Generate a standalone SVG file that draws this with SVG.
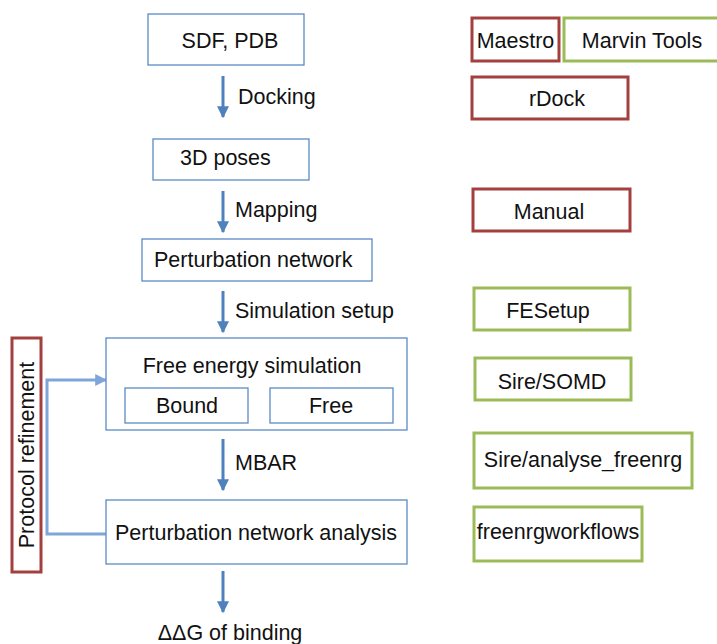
<svg xmlns="http://www.w3.org/2000/svg" width="717" height="644" viewBox="0 0 717 644">
<defs>
<style>
text{font-family:"Liberation Sans",Arial,sans-serif;font-size:21.5px;fill:#111}
.b{fill:#fff;stroke:#5b8ac6;stroke-width:1.3}
.r{fill:#fff;stroke:#a3403d;stroke-width:3}
.g{fill:#fff;stroke:#9bbb59;stroke-width:3}
.a{stroke:#4f81bd;stroke-width:3;fill:none}
.m{text-anchor:middle}
</style>
<marker id="ah" viewBox="0 0 10 10" refX="9" refY="5" markerWidth="4" markerHeight="4" orient="auto" markerUnits="strokeWidth">
<path d="M0,0 L10,5 L0,10 Z" fill="#4f81bd"/>
</marker>
<marker id="ah2" viewBox="0 0 10 10" refX="9" refY="5" markerWidth="4" markerHeight="4" orient="auto" markerUnits="strokeWidth">
<path d="M0,0 L10,5 L0,10 Z" fill="#7ea6d8"/>
</marker>
</defs>
<g id="connectors">
<line class="a" x1="223" y1="76" x2="223" y2="117" marker-end="url(#ah)"/>
<line class="a" x1="223" y1="191" x2="223" y2="232" marker-end="url(#ah)"/>
<line class="a" x1="223" y1="291" x2="223" y2="332" marker-end="url(#ah)"/>
<line class="a" x1="223" y1="439" x2="223" y2="490" marker-end="url(#ah)"/>
<line class="a" x1="223" y1="571" x2="223" y2="612" marker-end="url(#ah)"/>
<polyline points="106,534 47,534 47,380 106,380" fill="none" stroke="#7ea6d8" stroke-width="3" marker-end="url(#ah2)"/>
<text x="238" y="104">Docking</text>
<text x="235" y="217">Mapping</text>
<text x="235" y="318">Simulation setup</text>
<text x="235" y="470">MBAR</text>
</g>
<g id="sdf"><rect class="b" x="148" y="14" width="156" height="51"/><text class="m" x="230" y="48">SDF, PDB</text></g>
<g id="poses"><rect class="b" x="153" y="139" width="156" height="41"/><text x="180" y="165">3D poses</text></g>
<g id="pertnet"><rect class="b" x="142" y="239" width="230" height="42"/><text x="154" y="267">Perturbation network</text></g>
<g id="fes"><rect class="b" x="106" y="338" width="301" height="92"/><text class="m" x="252" y="373">Free energy simulation</text></g>
<g id="bound"><rect class="b" x="125" y="388" width="123" height="35"/><text class="m" x="187" y="413">Bound</text></g>
<g id="free"><rect class="b" x="270" y="388" width="123" height="35"/><text class="m" x="331" y="413">Free</text></g>
<g id="pna"><rect class="b" x="106" y="500" width="301" height="64"/><text x="115" y="540">Perturbation network analysis</text></g>
<g id="ddg"><text class="m" x="230" y="640">ΔΔG of binding</text></g>
<g id="protocol"><rect class="r" x="12" y="338" width="29" height="234"/><text class="m" transform="translate(34,455) rotate(-90)">Protocol refinement</text></g>
<g id="maestro"><rect class="r" x="472" y="18" width="87" height="43"/><text class="m" x="515.5" y="48">Maestro</text></g>
<g id="marvin"><rect class="g" x="564" y="18" width="156" height="43"/><text class="m" x="642" y="48">Marvin Tools</text></g>
<g id="rdock"><rect class="r" x="472" y="77" width="156" height="42"/><text class="m" x="557" y="106">rDock</text></g>
<g id="manual"><rect class="r" x="473" y="189" width="157" height="42"/><text class="m" x="549" y="219">Manual</text></g>
<g id="fesetup"><rect class="g" x="474" y="288" width="156" height="42"/><text class="m" x="548" y="318">FESetup</text></g>
<g id="somd"><rect class="g" x="475" y="358" width="156" height="42"/><text class="m" x="552" y="389">Sire/SOMD</text></g>
<g id="analyse"><rect class="g" x="474" y="433" width="218" height="55"/><text class="m" x="583" y="467">Sire/analyse_freenrg</text></g>
<g id="workflows"><rect class="g" x="474" y="507" width="168" height="54"/><text class="m" x="558" y="539">freenrgworkflows</text></g>
</svg>
